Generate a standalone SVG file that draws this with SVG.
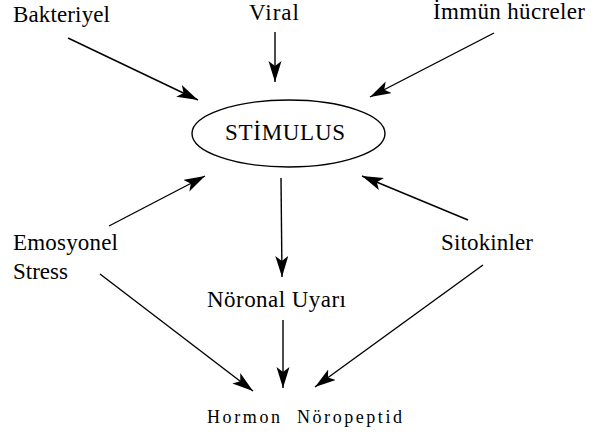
<svg xmlns="http://www.w3.org/2000/svg" width="600" height="434" viewBox="0 0 600 434">
<style>
.t{font-size:23px;fill:#000}
.s{font-size:18px;fill:#000}
.c{stroke:#000;stroke-width:1.4;fill:none;marker-end:url(#ah)}
</style>
<defs>
<marker id="ah" markerUnits="userSpaceOnUse" markerWidth="24" markerHeight="14" refX="21" refY="6.5" orient="auto" viewBox="0 0 24 14">
<path d="M0,0 L21,6.5 L0,13 L5,6.5 z" fill="#000"/>
</marker>
</defs>
<rect width="600" height="434" fill="#fff"/>
<g id="connectors">
<line class="c" x1="68" y1="38" x2="198" y2="100"/>
<line class="c" x1="275" y1="32" x2="275" y2="82"/>
<line class="c" x1="494" y1="33" x2="370" y2="97"/>
<line class="c" x1="109" y1="226" x2="205" y2="176"/>
<line class="c" x1="468" y1="220" x2="362" y2="176"/>
<line class="c" x1="281" y1="178" x2="282" y2="277"/>
<line class="c" x1="283" y1="320" x2="283" y2="388"/>
<line class="c" x1="100" y1="274" x2="253" y2="391"/>
<line class="c" x1="483" y1="265" x2="315" y2="387"/>
</g>
<g font-family="Liberation Serif, Times New Roman, serif">
<g id="bakteriyel"><text class="t" x="13" y="22" textLength="97">Bakteriyel</text></g>
<g id="viral"><text class="t" x="249" y="20" textLength="50">Viral</text></g>
<g id="immun"><text class="t" x="433" y="19" textLength="152">İmmün hücreler</text></g>
<g id="stimulus">
<ellipse cx="288.5" cy="133.5" rx="96.5" ry="33.5" fill="none" stroke="#000" stroke-width="1.4"/>
<text class="t" x="225" y="140" textLength="120">STİMULUS</text>
</g>
<g id="emosyonel"><text class="t" x="13" y="250" textLength="105">Emosyonel</text><text class="t" x="13" y="279">Stress</text></g>
<g id="sitokinler"><text class="t" x="441" y="250" textLength="92">Sitokinler</text></g>
<g id="noronal"><text class="t" x="207" y="307" textLength="139">Nöronal Uyarı</text></g>
<g id="hormon"><text class="s" x="207" y="423" textLength="73">Hormon</text><text class="s" x="297" y="423" textLength="105">Nöropeptid</text></g>
</g>
</svg>
